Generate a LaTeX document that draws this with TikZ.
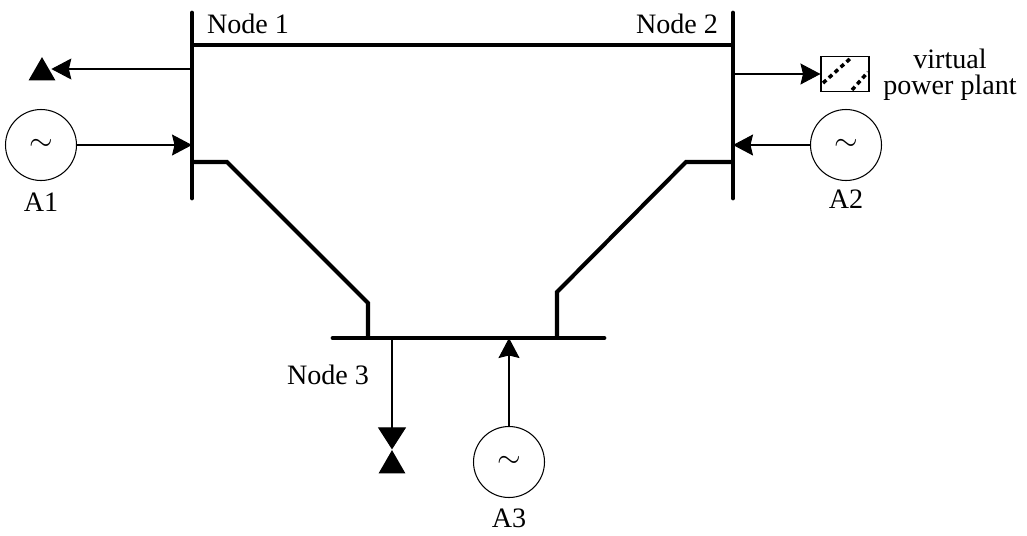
\documentclass[tikz,border=0pt]{standalone}
\usepackage{fontspec}
\setmainfont{Liberation Serif}
\usetikzlibrary{shapes.geometric,arrows.meta,positioning,calc}

\tikzset{
  bus/.style={line width=2.7pt, line cap=round},
  link/.style={line width=2.3pt, line join=miter},
  feed/.style={line width=0.6pt},
  tip/.style={-{Stealth[length=0.4cm,width=0.42cm,inset=0.05cm]}},
  gen/.style={draw, circle, line width=0.6pt, minimum size=1.42cm, inner sep=0pt, font=\fontsize{19}{19}\selectfont},
  loadtri/.style={fill, regular polygon, regular polygon sides=3, minimum size=0.62cm, inner sep=0pt},
  lbl/.style={font=\fontsize{16}{15}\selectfont, inner sep=0pt}
}

\begin{document}
\begin{tikzpicture}[x=0.02cm, y=-0.02cm]
    \useasboundingbox (0,0) rectangle (1027,535);

    % Buses
    \draw [bus] (192,13) -- (192,198);
    \draw [bus] (733,13) -- (733,198);
    \draw [bus] (333,338) -- (604,338);
    \node [lbl] (n1lab) at (248,24) {Node 1};
    \node [lbl] (n2lab) at (677,24) {Node 2};
    \node [lbl] (n3lab) at (328,375) {Node 3};

    % Lines between the buses
    \draw [link] (192,45) -- (733,45);
    \draw [link] (192,162) -- (227,162) -- (368,303) -- (368,338);
    \draw [link] (733,162) -- (686,162) -- (557,292) -- (557,338);

    % Node 1: load and generator A1
    \coordinate (n1load) at (192,69);
    \coordinate (n1gen) at (192,145);
    \node [loadtri] (L1) at (42,72.6) {};
    \draw [feed, tip] (n1load) -- (n1load -| L1.east);
    \node [gen] (A1) at (41,145) {$\sim$};
    \node [lbl] (A1lab) at (41,202) {A1};
    \draw [feed, tip] (A1) -- (n1gen);

    % Node 2: virtual power plant and generator A2
    \coordinate (n2vpp) at (733,74);
    \coordinate (n2gen) at (733,145);
    \node [draw, line width=0.6pt, minimum width=0.96cm, minimum height=0.7cm, inner sep=0pt] (vpp) at (845,74) {};
    \draw [line width=2pt, dash pattern=on 2.5pt off 2pt] (823,83) -- (852,57);
    \draw [line width=2pt, dash pattern=on 2.5pt off 2pt] (852,90) -- (868,72);
    \draw [feed, tip] (n2vpp) -- (vpp.west);
    \node [lbl, align=center] (vpplab) at (950,75) {virtual\\power plant};
    \node [gen] (A2) at (846,145) {$\sim$};
    \node [lbl] (A2lab) at (846,199) {A2};
    \draw [feed, tip] (A2) -- (n2gen);

    % Node 3: load and generator A3
    \coordinate (n3load) at (392,338);
    \coordinate (n3gen) at (509,338);
    \node [loadtri] (L3) at (392,465.6) {};
    \draw [feed, -{Triangle[length=0.44cm,width=0.56cm]}] (n3load) -- (L3.north);
    \node [gen] (A3) at (509,462) {$\sim$};
    \node [lbl] (A3lab) at (509,518) {A3};
    \draw [feed, tip] (A3) -- (n3gen);
\end{tikzpicture}
\end{document}
